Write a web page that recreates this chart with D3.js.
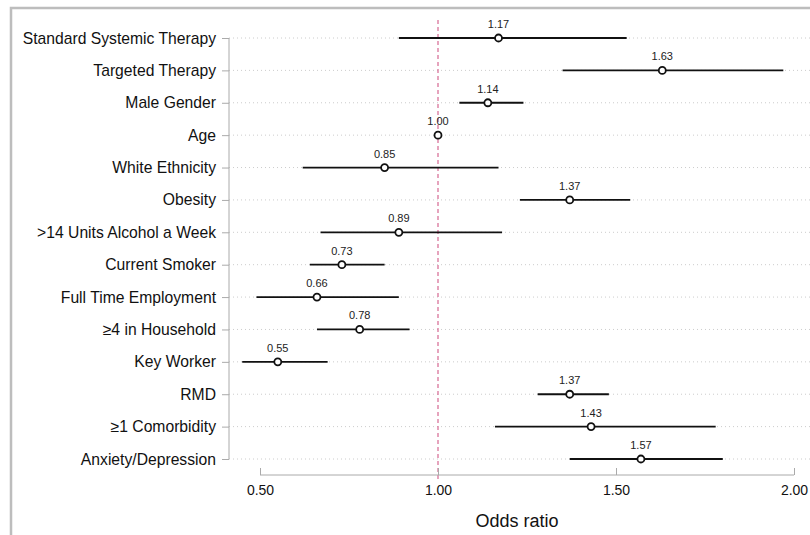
<!DOCTYPE html>
<html><head><meta charset="utf-8">
<script src="https://cdn.jsdelivr.net/npm/d3@7"></script>
<style>body{margin:0;background:#fff;font-family:"Liberation Sans",Arial,sans-serif}</style>
</head><body>
<svg id="c" width="810" height="535"></svg>
<script>
const labels = ["Standard Systemic Therapy","Targeted Therapy","Male Gender","Age","White Ethnicity","Obesity",">14 Units Alcohol a Week","Current Smoker","Full Time Employment","\u22654 in Household","Key Worker","RMD","\u22651 Comorbidity","Anxiety/Depression"];
const or = [1.17,1.63,1.14,1.00,0.85,1.37,0.89,0.73,0.66,0.78,0.55,1.37,1.43,1.57];
const lo = [0.89,1.35,1.06,0.99,0.62,1.23,0.67,0.64,0.49,0.66,0.45,1.28,1.16,1.37];
const hi = [1.53,1.97,1.24,1.01,1.17,1.54,1.18,0.85,0.89,0.92,0.69,1.48,1.78,1.80];
const ticks = [0.5,1.0,1.5,2.0];

const svg = d3.select("#c");
svg.append("rect").attr("x",11).attr("y",8).attr("width",810).attr("height",540)
  .attr("fill","none").attr("stroke","#bdbdbd").attr("stroke-width",2.5);

const x = d3.scaleLinear().domain([0.5,2.0]).range([260,794]);
const y = d3.scalePoint().domain(labels).range([38,459]);

// grid
svg.selectAll(".g").data(labels).join("line")
  .attr("x1",229).attr("x2",810).attr("y1",d=>y(d)).attr("y2",d=>y(d))
  .attr("stroke","#ccc").attr("stroke-dasharray","1,3");

// ref line
svg.append("line").attr("x1",x(1)).attr("x2",x(1)).attr("y1",20).attr("y2",480)
  .attr("stroke","#d9739a").attr("stroke-width",1.3).attr("stroke-dasharray","4,3");

// y axis
const ya = svg.append("g").attr("transform","translate(229,0)").call(d3.axisLeft(y).tickSize(7).tickPadding(6));
ya.select(".domain").attr("stroke","#aaa").attr("d","M0,38V459");
ya.selectAll(".tick line").attr("stroke","#aaa");
ya.selectAll("text").attr("font-size",15.7).attr("fill","#111").attr("font-family","Liberation Sans, Arial");

// x axis
const xa = svg.append("g").attr("transform","translate(0,475)")
  .call(d3.axisTop(x).tickValues(ticks).tickSize(7).tickFormat(d3.format(".2f")));
xa.select(".domain").attr("stroke","#aaa").attr("d","M260,0H794");
xa.selectAll(".tick line").attr("stroke","#aaa");
xa.selectAll("text").attr("y",20).attr("dy","0").attr("font-size",14).attr("fill","#111").attr("font-family","Liberation Sans, Arial");
svg.append("text").attr("x",517).attr("y",527).attr("text-anchor","middle").attr("font-size",18).attr("fill","#111").text("Odds ratio");

const rows = labels.map((l,i)=>({l,or:or[i],lo:lo[i],hi:hi[i]}));
svg.selectAll(".ci").data(rows).join("line")
  .attr("x1",d=>x(d.lo)).attr("x2",d=>x(d.hi)).attr("y1",d=>y(d.l)).attr("y2",d=>y(d.l))
  .attr("stroke","#111").attr("stroke-width",1.8);
svg.selectAll(".pt").data(rows).join("circle")
  .attr("cx",d=>x(d.or)).attr("cy",d=>y(d.l)).attr("r",3.5)
  .attr("fill","#fff").attr("stroke","#111").attr("stroke-width",1.8);
svg.selectAll(".lb").data(rows).join("text")
  .attr("x",d=>x(d.or)).attr("y",d=>y(d.l)-10).attr("text-anchor","middle")
  .attr("font-size",11).attr("fill","#222").text(d=>d.or.toFixed(2));
</script>
</body></html>
